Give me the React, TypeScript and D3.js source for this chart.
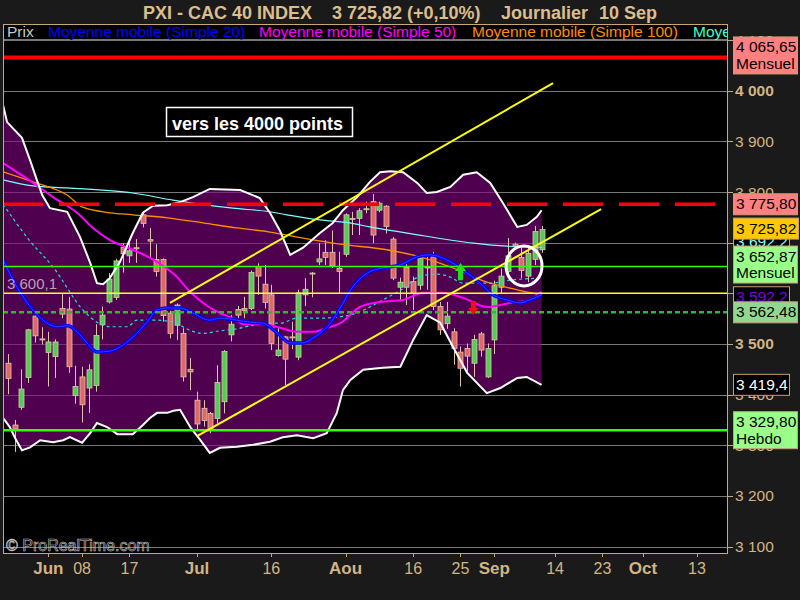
import React from 'react';
import * as d3 from 'd3';

const FONT = "'Liberation Sans', Arial, Helvetica, sans-serif";
const TAN = '#d4b483';

// index 0 = 1 Jun 2010 (trading-day index); first candle at index -6
const FIRST_INDEX = -6;
const opens = [3462,3340,3375,3434,3555,3510,3483,3475,3570,3569,3398,3435,3413,3418,3538,3583,3592,3691,3674,3690,3755,3706,3667,3667,3561,3537,3521,3450,3389,3373,3363,3353,3386,3518,3568,3566,3570,3653,3618,3597,3477,3514,3514,3474,3597,3638,3662,3681,3681,3649,3677,3746,3748,3765,3781,3764,3772,3707,3612,3651,3623,3616,3652,3672,3574,3540,3524,3484,3491,3462,3520,3435,3508,3612,3643,3697,3671,3634,3667,3686];
const highs = [3480,3350,3450,3530,3558,3533,3524,3509,3599,3593,3457,3455,3460,3539,3574,3640,3668,3699,3705,3707,3759,3729,3697,3669,3565,3580,3531,3472,3406,3389,3366,3458,3488,3557,3575,3593,3645,3659,3656,3617,3531,3516,3544,3607,3630,3642,3699,3705,3724,3682,3758,3761,3768,3781,3796,3781,3774,3711,3631,3659,3633,3676,3672,3682,3583,3583,3531,3495,3501,3518,3524,3501,3625,3649,3709,3700,3690,3695,3733,3733];
const lows = [3401,3287,3370,3423,3503,3499,3416,3433,3551,3443,3382,3345,3364,3406,3509,3580,3587,3641,3660,3660,3730,3672,3633,3544,3511,3508,3426,3409,3330,3337,3324,3343,3363,3505,3551,3551,3567,3597,3570,3488,3475,3419,3490,3468,3575,3592,3656,3656,3650,3601,3672,3715,3715,3758,3699,3760,3718,3626,3584,3577,3567,3607,3607,3567,3518,3530,3459,3416,3446,3435,3475,3433,3480,3600,3630,3690,3630,3622,3656,3680];
const closes = [3432,3332,3411,3528,3516,3508,3504,3504,3559,3455,3416,3380,3449,3517,3557,3628,3664,3678,3684,3688,3738,3703,3643,3556,3521,3577,3435,3445,3342,3349,3331,3424,3485,3539,3557,3570,3641,3634,3582,3501,3488,3470,3512,3601,3608,3640,3668,3671,3654,3643,3755,3748,3763,3767,3715,3778,3732,3630,3622,3612,3600,3669,3650,3574,3528,3555,3491,3452,3476,3509,3488,3491,3615,3634,3674,3693,3645,3679,3722,3725.82];

// [trading-day index, value]
const sma20: [number, number][] = [[-6.7,3666],[-4.63,3612],[-2.26,3567],[-0.78,3547],[1.29,3534],[2.92,3536],[4.25,3524],[5.73,3502],[7.21,3484],[9.13,3486],[10.61,3494],[12.54,3514],[14.6,3543],[16.1,3567],[17.6,3571],[19.5,3571],[21.4,3561],[23.9,3547],[25.4,3551],[27.9,3547],[29.85,3543],[31.8,3541],[33.85,3522],[35.8,3502],[37.7,3502],[39.2,3512],[41.3,3534],[43.2,3571],[44.65,3605],[47.2,3640],[49.5,3650],[52.1,3656],[54.6,3672],[56.5,3676],[59.0,3666],[61.4,3646],[63.9,3620],[65.8,3597],[67.9,3587],[69.8,3581],[71.3,3587],[73,3597]];
const sma50: [number, number][] = [[-6.7,3857],[-2.26,3818],[0.7,3790],[4.25,3759],[6.6,3729],[9.13,3705],[12.5,3686],[16.1,3662],[19.05,3632],[20.97,3603],[22.9,3581],[25.4,3561],[27.9,3547],[28.8,3539],[31.8,3539],[34.3,3532],[36.8,3524],[39.2,3524],[41.3,3532],[43.2,3541],[46.1,3573],[49.1,3583],[52.5,3587],[55.5,3601],[58.4,3601],[61.4,3591],[64.9,3573],[68.3,3581],[71.3,3587],[73,3603]];
const sma100: [number, number][] = [[-6.7,3840],[-2.26,3820],[2.77,3794],[5.1,3770],[9.13,3759],[12.5,3755],[17.6,3749],[22.9,3739],[27.9,3729],[32.8,3721],[37.7,3709],[43.2,3697],[50.1,3686],[55.0,3672],[59.9,3650],[64.9,3622],[69.4,3607],[73,3597]];
const sma200: [number, number][] = [[-6.7,3824],[-2.26,3812],[2.77,3808],[12.5,3798],[18.45,3784],[22.45,3776],[27.3,3768],[32.8,3761],[35.3,3755],[40.2,3745],[44.65,3739],[47.6,3731],[53.1,3719],[62.9,3699],[67.9,3693],[73,3691]];
const cyanDashed: [number, number][] = [[-6.7,3776],[-2.7,3703],[0.7,3652],[5.14,3567],[7.2,3543],[9.13,3534],[11.7,3534],[13.1,3547],[16.1,3547],[19.05,3541],[19.9,3534],[22.9,3521],[25.4,3526],[27.9,3530],[29.85,3536],[31.8,3541],[34.3,3541],[36.8,3551],[40.2,3551],[43.9,3555],[47.6,3573],[49.5,3587],[52.8,3612],[54.7,3632],[57.5,3638],[59.5,3632],[61.4,3620],[65.4,3620],[68.3,3626],[73,3630]];
const bbUpper: [number, number][] = [[-6.7,3972],[-6.1,3938],[-3.9,3907],[-2.7,3863],[-1.7,3824],[-0.9,3794],[0.25,3768],[2.8,3761],[4.7,3711],[6.2,3660],[7.2,3620],[8.1,3618],[9.1,3630],[10.6,3662],[12.5,3719],[14.0,3759],[15.5,3773],[17.6,3774],[19.5,3780],[21.4,3790],[23.9,3806],[28.4,3804],[31.3,3788],[32.8,3759],[34.3,3723],[35.8,3676],[37.7,3690],[40.2,3719],[42.1,3739],[43.6,3764],[45.7,3790],[47.6,3820],[49.1,3839],[50.6,3841],[52.5,3839],[54.6,3818],[56.0,3798],[57.5,3800],[59.5,3810],[61.4,3834],[63.4,3839],[65.4,3818],[67.3,3778],[69.4,3731],[70.8,3735],[72.3,3751],[73.0,3764]];
const bbLower: [number, number][] = [[-6.7,3354],[-5.7,3336],[-4.9,3314],[-3.9,3290],[-2.7,3296],[-1.2,3310],[0.7,3306],[2.2,3310],[3.2,3316],[5.0,3305],[6.2,3324],[7.2,3344],[8.7,3336],[10.2,3322],[12.5,3322],[14.0,3340],[15.05,3354],[16.1,3364],[17.6,3364],[18.5,3368],[19.5,3370],[21.0,3336],[22.5,3310],[23.9,3285],[25.4,3295],[27.9,3297],[30.3,3301],[32.8,3307],[34.7,3316],[36.8,3320],[39.2,3314],[41.2,3324],[42.7,3364],[43.6,3409],[44.7,3429],[46.6,3449],[49.5,3453],[52.1,3455],[54.0,3508],[56.0,3557],[58.0,3542],[59.9,3494],[62.0,3443],[64.9,3403],[66.9,3413],[69.4,3433],[70.8,3435],[73.0,3419.4]];

const trendUpper: [number, number][] = [[18.0, 3581], [74.7, 4015]];
const trendLower: [number, number][] = [[22.0, 3318], [81.8, 3766]];

const xTicks = [
  { i: 0, label: 'Jun', bold: true }, { i: 5, label: '08' }, { i: 12, label: '17' },
  { i: 22, label: 'Jul', bold: true }, { i: 33, label: '16' }, { i: 44, label: 'Aou', bold: true },
  { i: 54, label: '16' }, { i: 61, label: '25' }, { i: 66, label: 'Sep', bold: true },
  { i: 75, label: '14' }, { i: 82, label: '23' }, { i: 88, label: 'Oct', bold: true }, { i: 96, label: '13' },
];
const yTicks = [3100, 3200, 3300, 3400, 3500, 3600, 3700, 3800, 3900, 4000, 4100];
const yBold = [3500, 4000];

const axisBoxes = [
  { value: 3692.2, dy: -5, lines: ['3 692,2'], bg: '#000', fg: '#80ffff', w: 56 },
  { value: 3592.2, dy: 0, lines: ['3 592,2'], bg: '#000', fg: '#7a00e0', w: 56 },
  { value: 4065.65, dy: -2, lines: ['4 065,65', 'Mensuel'], bg: '#ff8080', fg: '#000', w: 64 },
  { value: 3775.8, dy: 0, lines: ['3 775,80'], bg: '#ff8080', fg: '#000', w: 64 },
  { value: 3725.82, dy: -1, lines: ['3 725,82'], bg: '#ffc800', fg: '#000', w: 65 },
  { value: 3652.87, dy: -2, lines: ['3 652,87', 'Mensuel'], bg: '#99ff88', fg: '#000', w: 64 },
  { value: 3562.48, dy: 0, lines: ['3 562,48'], bg: '#90d890', fg: '#000', w: 64 },
  { value: 3419.4, dy: 0, lines: ['3 419,4'], bg: '#000', fg: '#fff', w: 56 },
  { value: 3329.8, dy: 0, lines: ['3 329,80', 'Hebdo'], bg: '#99ff88', fg: '#000', w: 64 },
];

const legend = [
  { text: 'Prix', color: '#c8c8c8', x: 7 },
  { text: 'Moyenne mobile (Simple 20)', color: '#0000ff', x: 48 },
  { text: 'Moyenne mobile (Simple 50)', color: '#ff00ff', x: 259 },
  { text: 'Moyenne mobile (Simple 100)', color: '#ff8c00', x: 472 },
  { text: 'Moyenne mobile (Simple 200)', color: '#40ffd0', x: 693 },
];

export default function App() {
  const PL = 3, PR = 727, PT = 24, PB = 553;
  const x = d3.scaleLinear().domain([0, 96]).range([48.3, 697]);
  const y = d3.scaleLinear().domain([3100, 4000]).range([546.6, 90.7]);
  const line = d3.line<[number, number]>().x(d => x(d[0])).y(d => y(d[1]));
  const smooth = d3.line<[number, number]>().x(d => x(d[0])).y(d => y(d[1])).curve(d3.curveMonotoneX);
  const bandPath = (line(bbUpper) as string) + 'L' + (line([...bbLower].reverse()) as string).slice(1) + 'Z';
  const candles = opens.map((o, k) => ({ i: FIRST_INDEX + k, o, h: highs[k], l: lows[k], c: closes[k] }));

  const hl = (v: number) => Math.round(y(v)) + 0.5;

  const gx = x(61), gTip = y(3660), gBase = y(3626);
  const rx = x(62.9), rTip = y(3557), rTop = y(3585);

  return (
    <svg width={800} height={600} style={{ position: 'fixed', left: 0, top: 0, background: '#1a1a1a' }} fontFamily={FONT}>
      <defs>
        <clipPath id="plot"><rect x={PL} y={PT} width={PR - PL} height={PB - PT} /></clipPath>
      </defs>
      <rect x={0} y={0} width={800} height={600} fill="#1a1a1a" />
      <rect x={PL} y={PT} width={PR - PL} height={PB - PT} fill="#000" />

      {/* title */}
      <g fill="#dcbe8c" fontWeight="bold" fontSize={18}>
        <text x={143} y={18.5}>PXI - CAC 40 INDEX</text>
        <text x={332} y={18.5}>3 725,82</text>
        <text x={407} y={18.5}>(+0,10%)</text>
        <text x={501} y={18.5}>Journalier</text>
        <text x={599} y={18.5}>10 Sep</text>
      </g>

      <g clipPath="url(#plot)">
        {/* grid */}
        {yTicks.map(t => (
          <line key={t} x1={PL} x2={PR} y1={hl(t)} y2={hl(t)} stroke="#777" strokeWidth={1} />
        ))}
        {/* bollinger fill */}
        <path d={bandPath} fill="#800080" fillOpacity={0.62} />

        {/* candles */}
        {candles.map(d => {
          const cx = Math.round(x(d.i)) + 0.5;
          const up = d.c >= d.o;
          const top = y(Math.max(d.o, d.c));
          const bot = y(Math.min(d.o, d.c));
          return (
            <g key={d.i}>
              <line x1={cx} x2={cx} y1={y(d.h)} y2={y(d.l)} stroke="#d8c8a8" strokeWidth={1} />
              <rect x={cx - 2.5} y={top} width={5} height={Math.max(1, bot - top)}
                fill={up ? '#55cc55' : '#e06868'} stroke="#d8c8a8" strokeWidth={0.8} />
            </g>
          );
        })}

        {/* moving averages */}
        <path d={smooth(sma200) as string} fill="none" stroke="#80ffff" strokeWidth={1.2} />
        <path d={smooth(sma100) as string} fill="none" stroke="#ff8c00" strokeWidth={1.3} />
        <path d={smooth(cyanDashed) as string} fill="none" stroke="#20e0e0" strokeWidth={1.2} strokeDasharray="3,3" />
        <path d={smooth(sma50) as string} fill="none" stroke="#ff00ff" strokeWidth={2} />
        <path d={smooth(sma20) as string} fill="none" stroke="#0000ff" strokeWidth={3.5} />
        <path d={smooth(sma20) as string} fill="none" stroke="#3a3aff" strokeWidth={1} />

        {/* bollinger lines */}
        <path d={line(bbUpper) as string} fill="none" stroke="#fff" strokeWidth={2} />
        <path d={line(bbLower) as string} fill="none" stroke="#fff" strokeWidth={2} />

        {/* horizontal levels */}
        <line x1={PL} x2={PR} y1={y(4065.65)} y2={y(4065.65)} stroke="#ff0000" strokeWidth={4} />
        <line x1={PL} x2={PR} y1={y(3775.8)} y2={y(3775.8)} stroke="#ff0000" strokeWidth={3.5} strokeDasharray="40,16" />
        <line x1={PL} x2={PR} y1={y(3652.87)} y2={y(3652.87)} stroke="#33ff00" strokeWidth={1.5} />
        <line x1={PL} x2={PR} y1={y(3600.1)} y2={y(3600.1)} stroke="#ffff33" strokeWidth={1.5} />
        <line x1={PL} x2={PR} y1={y(3562.48)} y2={y(3562.48)} stroke="#2db82d" strokeWidth={2.5} strokeDasharray="5,3" />
        <line x1={PL} x2={PR} y1={y(3329.8)} y2={y(3329.8)} stroke="#33ff00" strokeWidth={2.5} />

        {/* trend channel */}
        <path d={line(trendUpper) as string} fill="none" stroke="#ffff00" strokeWidth={2} />
        <path d={line(trendLower) as string} fill="none" stroke="#ffff00" strokeWidth={2} />

        {/* arrows */}
        <path d={`M${gx},${gTip}L${gx + 5.5},${gTip + 8}L${gx + 2.5},${gTip + 8}L${gx + 2.5},${gBase}L${gx - 2.5},${gBase}L${gx - 2.5},${gTip + 8}L${gx - 5.5},${gTip + 8}Z`} fill="#22dd22" />
        <path d={`M${rx},${rTip}L${rx + 5},${rTip - 7}L${rx + 2.5},${rTip - 7}L${rx + 2.5},${rTop}L${rx - 2.5},${rTop}L${rx - 2.5},${rTip - 7}L${rx - 5},${rTip - 7}Z`} fill="#ee1111" />

        {/* circle */}
        <ellipse cx={x(70.4)} cy={y(3654)} rx={18} ry={20} fill="none" stroke="#fff" strokeWidth={3} />

        {/* annotation */}
        <rect x={166.5} y={107.5} width={186} height={29} fill="#000" stroke="#fff" strokeWidth={1.5} />
        <text x={172} y={130} fill="#fff" fontWeight="bold" fontSize={18}>vers les 4000 points</text>

        <text x={7} y={289} fill="#b4a4b4" fontSize={15}>3 600,1</text>
        <text x={6} y={551} fill="none" stroke="#c8c8c8" strokeWidth={0.6} fontSize={16}>© ProRealTime.com</text>

        {/* legend */}
        <rect x={PL} y={PT} width={PR - PL} height={15} fill="#000" />
        <line x1={PL} x2={PR} y1={39.5} y2={39.5} stroke="#777" />
        {legend.map(l => (
          <text key={l.x} x={l.x} y={36.5} fill={l.color} fontSize={15.5}>{l.text}</text>
        ))}
      </g>

      {/* frame */}
      <rect x={PL + 0.5} y={PT + 0.5} width={PR - PL} height={PB - PT} fill="none" stroke="#c8a878" strokeWidth={1} />

      {/* right axis */}
      {yTicks.map(t => (
        <g key={t}>
          <line x1={PR} x2={PR + 6} y1={hl(t)} y2={hl(t)} stroke="#c8a878" />
          <text x={735} y={y(t) + 5.5} fill={TAN} fontSize={15.5} fontWeight={yBold.includes(t) ? 'bold' : 'normal'}>
            {d3.format(',')(t).replace(',', ' ')}
          </text>
        </g>
      ))}
      {axisBoxes.map((b, k) => {
        const h = b.lines.length === 1 ? 21 : 37;
        const top = y(b.value) + b.dy - h / 2;
        return (
          <g key={k}>
            <rect x={733.5} y={top} width={b.w} height={h} fill={b.bg} stroke="#c8a070" strokeWidth={1} />
            {b.lines.map((s, j) => (
              <text key={j} x={736} y={top + 15.5 + j * 16.5} fill={b.fg} fontSize={15.5}>{s}</text>
            ))}
          </g>
        );
      })}

      {/* bottom axis */}
      {xTicks.map(t => (
        <g key={t.i}>
          <line x1={Math.round(x(t.i)) + 0.5} x2={Math.round(x(t.i)) + 0.5} y1={PB} y2={PB + 4} stroke="#c8a878" />
          <text x={x(t.i)} y={574} textAnchor="middle" fill={TAN} fontSize={t.bold ? 17 : 16} fontWeight={t.bold ? 'bold' : 'normal'}>{t.label}</text>
        </g>
      ))}
    </svg>
  );
}
